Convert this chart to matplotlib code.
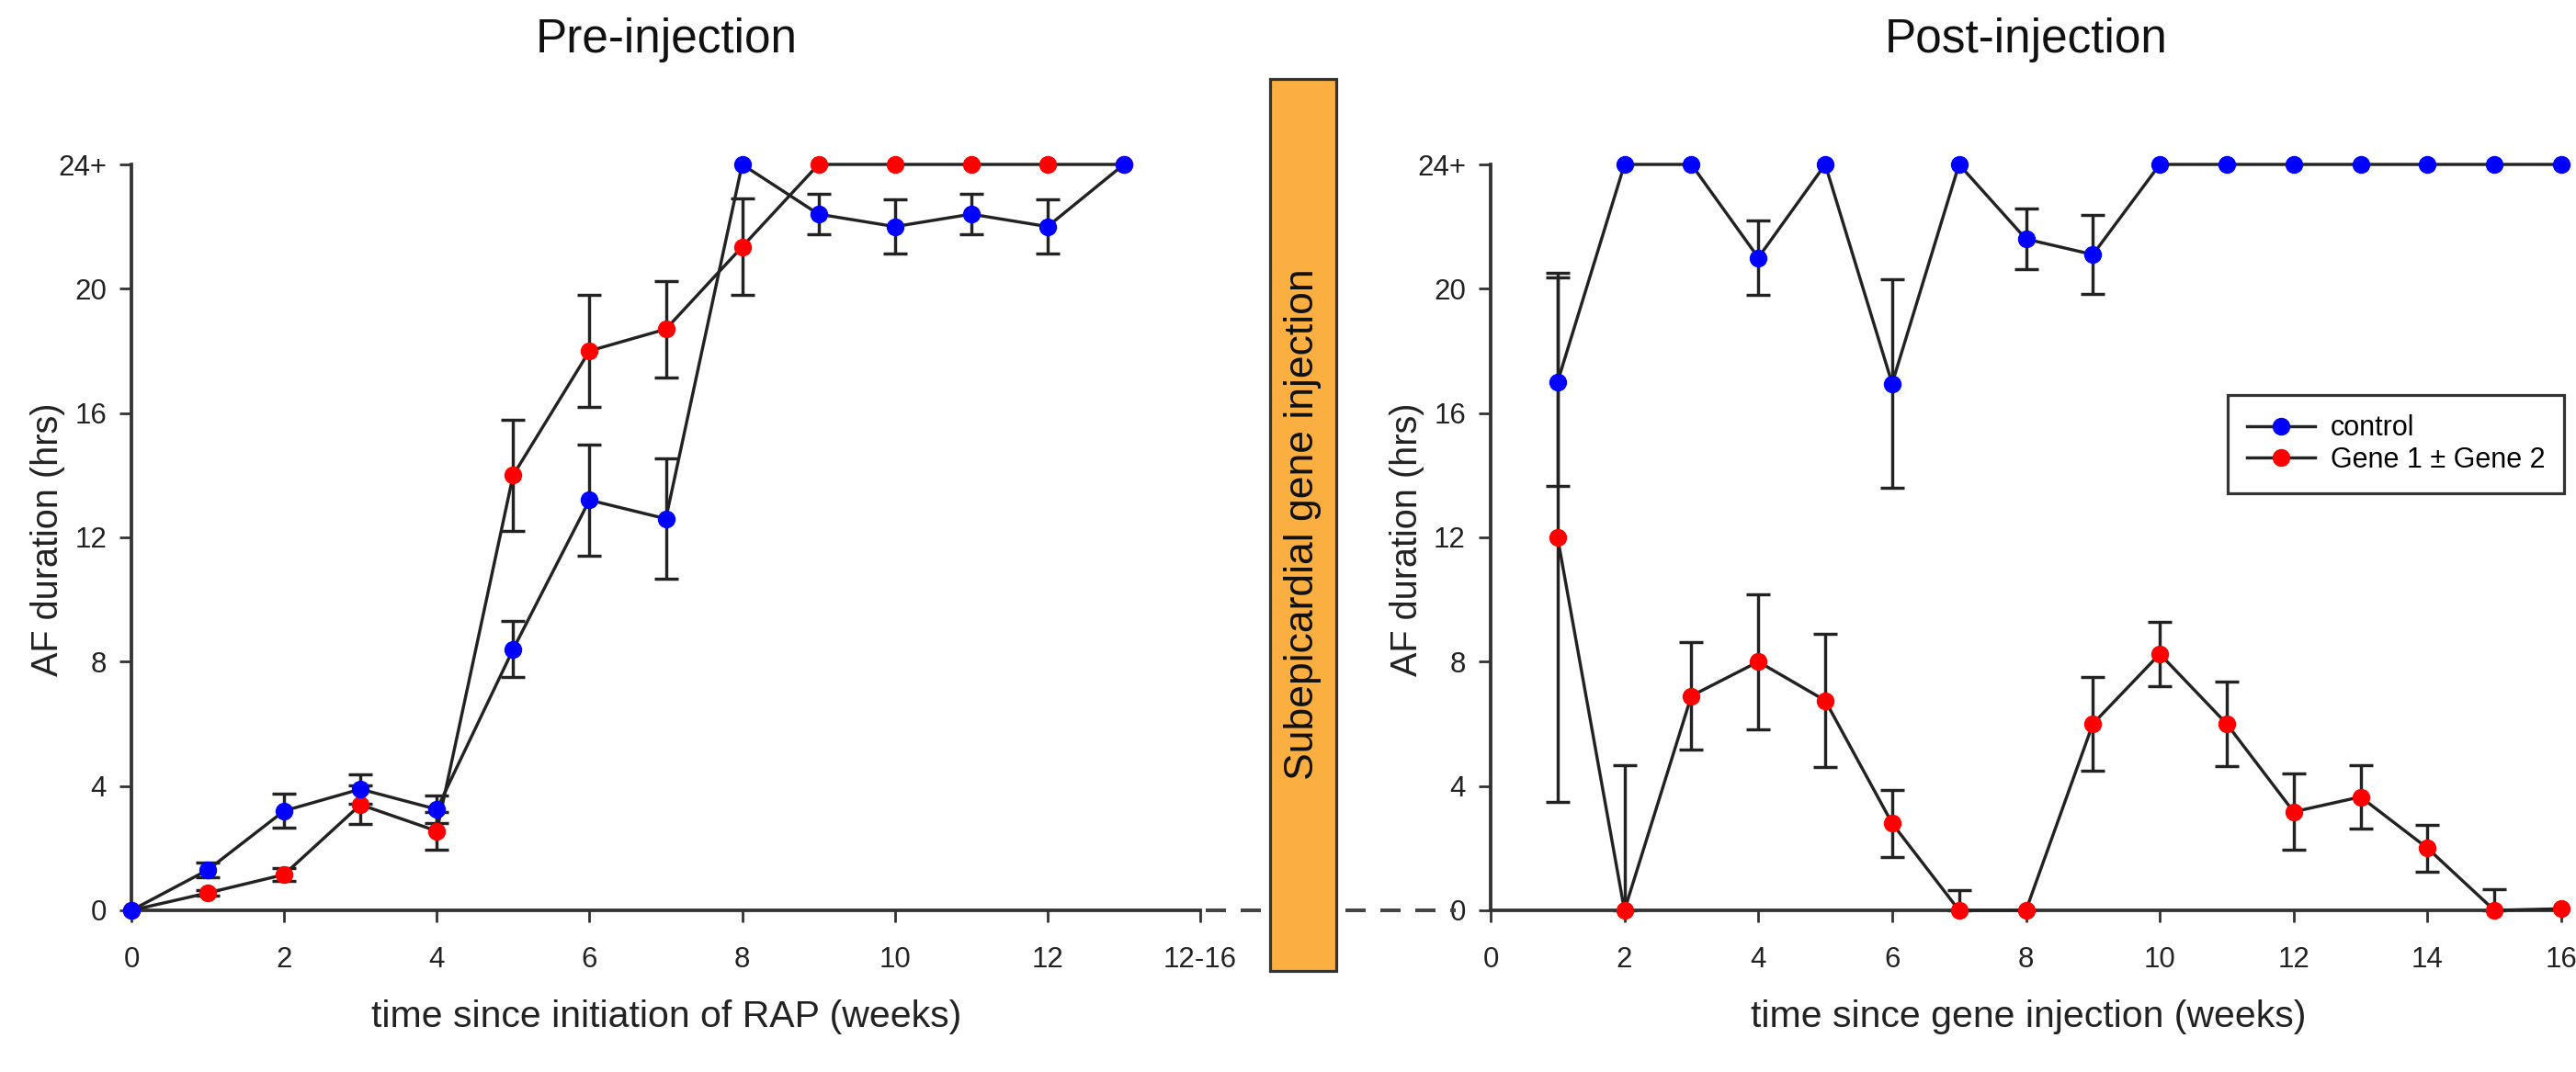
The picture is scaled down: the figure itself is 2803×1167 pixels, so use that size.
import numpy as np
import matplotlib
matplotlib.use("Agg")
import matplotlib.pyplot as plt
from matplotlib.lines import Line2D
from matplotlib.patches import Rectangle

# ---------------- data ----------------
weeks_pre = [0, 1, 2, 3, 4, 5, 6, 7, 8, 9, 10, 11, 12, 13]
ctrl_pre = [0, 1.3, 3.2, 3.9, 3.25, 8.4, 13.2, 12.6, 24, 22.4, 22.0, 22.4, 22.0, 24]
ctrl_pre_err = [0, 0.25, 0.55, 0.47, 0.45, 0.9, 1.78, 1.93, 0, 0.65, 0.87, 0.65, 0.87, 0]
gene_pre = [0, 0.56, 1.15, 3.4, 2.55, 14.0, 18.0, 18.7, 21.35, 24, 24, 24, 24, 24]
gene_pre_err = [0, 0.1, 0.2, 0.62, 0.6, 1.78, 1.8, 1.55, 1.55, 0, 0, 0, 0, 0]

weeks_post = [1, 2, 3, 4, 5, 6, 7, 8, 9, 10, 11, 12, 13, 14, 15, 16]
ctrl_post = [17.0, 24, 24, 21.0, 24, 16.95, 24, 21.6, 21.1, 24, 24, 24, 24, 24, 24, 24]
ctrl_post_err = [3.35, 0, 0, 1.2, 0, 3.35, 0, 0.97, 1.28, 0, 0, 0, 0, 0, 0, 0]
gene_post = [12.0, 0, 6.9, 8.0, 6.75, 2.8, 0, 0, 6.0, 8.25, 6.0, 3.17, 3.65, 2.0, 0, 0.05]
gene_post_err = [8.5, 4.66, 1.72, 2.17, 2.14, 1.08, 0.64, 0, 1.5, 1.03, 1.35, 1.22, 1.02, 0.76, 0.68, 0]

y_ticks = [0, 4, 8, 12, 16, 20, 24]
y_ticklabels = ["0", "4", "8", "12", "16", "20", "24+"]
pre_xticks = [0, 2, 4, 6, 8, 10, 12, 14]
pre_xticklabels = ["0", "2", "4", "6", "8", "10", "12", "12-16"]
post_xticks = [0, 2, 4, 6, 8, 10, 12, 14, 16]
post_xticklabels = ["0", "2", "4", "6", "8", "10", "12", "14", "16"]

series_labels = ["control", "Gene 1 \u00b1 Gene 2"]
series_colors = ["#0000FF", "#FF0000"]

# ---------------- style ----------------
W, H = 2803, 1167
PX = 0.72  # points per pixel at dpi 100
plt.rcParams["font.family"] = ["Liberation Sans", "DejaVu Sans"]

AXC = "#333333"
LW = 3.4 * PX
MS = 18 * PX
fig = plt.figure(figsize=(W / 100, H / 100), dpi=100)
fig.patch.set_facecolor("white")


def fx(px):
    return px / W


def fy(py):
    return 1 - py / H


y0, y24 = 991, 179
axL = fig.add_axes([fx(143), fy(y0), fx(1306 - 143), (y0 - y24) / H])
axR = fig.add_axes([fx(1622), fy(y0), fx(2787 - 1622), (y0 - y24) / H])


def draw_series(ax, x, y, err, color, zbase):
    x = np.asarray(x, float)
    y = np.asarray(y, float)
    err = np.asarray(err, float)
    m = err > 0
    lower = np.minimum(err, y)
    if m.any():
        ax.errorbar(x[m], y[m], yerr=[lower[m], err[m]], fmt="none",
                    ecolor="#222222", elinewidth=LW, capsize=13.5 * PX,
                    capthick=LW, zorder=2, clip_on=False)
    ax.plot(x, y, "-", color="#222222", lw=LW, zorder=3, clip_on=False)
    ax.plot(x, y, "o", color=color, mec=color, ms=MS, zorder=zbase,
            clip_on=False)


def style_axes(ax, xlim, xticks, xticklabels):
    ax.set_xlim(*xlim)
    ax.set_ylim(0, 24)
    for s in ["top", "right"]:
        ax.spines[s].set_visible(False)
    for s in ["left", "bottom"]:
        ax.spines[s].set_linewidth(3.8 * PX)
        ax.spines[s].set_color(AXC)
    ax.set_yticks(y_ticks)
    ax.set_yticklabels(y_ticklabels)
    ax.set_xticks(xticks)
    ax.set_xticklabels(xticklabels)
    ax.tick_params(axis="both", direction="out", length=13 * PX,
                   width=2.8 * PX, color=AXC, labelsize=22.5,
                   labelcolor="#222222")
    ax.tick_params(axis="y", pad=14 * PX)
    ax.tick_params(axis="x", pad=26 * PX)
    ax.patch.set_alpha(0)


draw_series(axL, weeks_pre, gene_pre, gene_pre_err, series_colors[1], 4)
draw_series(axL, weeks_pre, ctrl_pre, ctrl_pre_err, series_colors[0], 5)
draw_series(axR, weeks_post, gene_post, gene_post_err, series_colors[1], 4)
draw_series(axR, weeks_post, ctrl_post, ctrl_post_err, series_colors[0], 5)

style_axes(axL, (0, 14), pre_xticks, pre_xticklabels)
style_axes(axR, (0, 16), post_xticks, post_xticklabels)

# titles
fig.text(fx(725), fy(57), "Pre-injection", ha="center", va="baseline",
         fontsize=37, color="#111111")
fig.text(fx(2205), fy(57), "Post-injection", ha="center", va="baseline",
         fontsize=37, color="#111111")

# axis labels
fig.text(fx(725), fy(1118), "time since initiation of RAP (weeks)",
         ha="center", va="baseline", fontsize=29.5, color="#222222")
fig.text(fx(2207), fy(1118), "time since gene injection (weeks)",
         ha="center", va="baseline", fontsize=29.5, color="#222222")
fig.text(fx(52), fy(587), "AF duration (hrs)", rotation=90, ha="center",
         va="center", fontsize=28.5, color="#222222")
fig.text(fx(1531), fy(587), "AF duration (hrs)", rotation=90, ha="center",
         va="center", fontsize=28.5, color="#222222")

# dashed connection at zero (stops before the right "0" label)
fig.add_artist(Line2D([fx(1312), fx(1584)], [fy(y0), fy(y0)],
                      color="#444444", lw=4 * PX,
                      linestyle=(0, (5.5, 4)), zorder=1))

# injection box
fig.add_artist(Rectangle((fx(1382), fy(1057)), fx(1454 - 1382),
                         (1057 - 86) / H, facecolor="#FAAF40",
                         edgecolor="#333333", lw=3.2 * PX, zorder=5))
fig.text(fx(1418), fy(571), "Subepicardial gene injection", rotation=90,
         ha="center", va="center", fontsize=32, color="#111111", zorder=6)

# legend
handles = [Line2D([], [], color="#222222", lw=LW, marker="o",
                  ms=MS, mfc=c, mec=c) for c in series_colors]
leg = axR.legend(handles, series_labels, loc="upper left",
                 bbox_to_anchor=(fx(2424), fy(430)),
                 bbox_transform=fig.transFigure, borderaxespad=0,
                 fontsize=22, frameon=True, fancybox=False, framealpha=1,
                 edgecolor="#333333", handlelength=2.4, handletextpad=0.55,
                 labelspacing=0.15, borderpad=0.7)
leg.get_frame().set_linewidth(3.2 * PX)

fig.savefig("out.png", dpi=100)
